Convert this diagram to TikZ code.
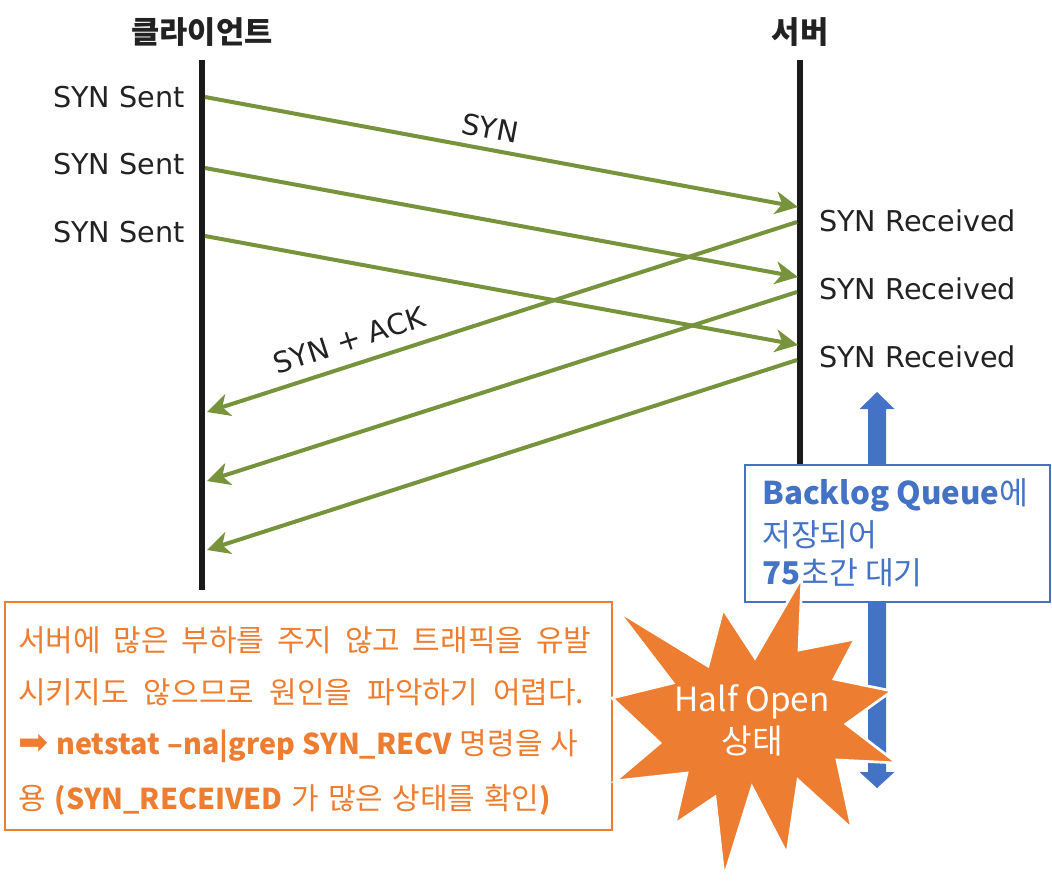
\documentclass[tikz,border=0pt]{standalone}
\usepackage{fontspec}
\setmainfont{DejaVu Sans}
\newfontfamily\kr{Noto Sans CJK KR}
\newfontfamily\arrfont{DejaVu Sans}
\usetikzlibrary{arrows.meta}
\definecolor{grn}{HTML}{77933C}
\definecolor{org}{HTML}{ED7D31}
\definecolor{blu}{HTML}{4472C4}
\definecolor{lifec}{HTML}{1A1A1A}
\definecolor{txt}{HTML}{222222}
\newcommand{\lat}[1]{{\bfseries\fontsize{21.5}{24}\selectfont #1}}
\begin{document}
\begin{tikzpicture}[x=0.75pt,y=-0.75pt,
  life/.style={line width=4.5pt, draw=lifec},
  msg/.style={draw=grn, line width=3pt, -{Stealth[length=17pt,width=17pt,inset=5pt]}},
  lbl/.style={font=\fontsize{21.5}{24}\selectfont, text=txt, inner sep=0pt},
  ttl/.style={font=\kr\bfseries\fontsize{23}{26}\selectfont, text=txt, inner sep=0pt},
  otext/.style={font=\kr\fontsize{22.5}{26}\selectfont, text=org, anchor=west, inner sep=0pt},
  btext/.style={font=\kr\fontsize{23.5}{26}\selectfont, text=blu, anchor=west, inner sep=0pt},
  boxstyle/.style={fill=white, line width=1.5pt, inner sep=0pt}]
\useasboundingbox (0,0) rectangle (1052,895);

% titles
\node[ttl] (tc) at (202,32) {클라이언트};
\node[ttl] (ts) at (800,32) {서버};

% lifelines
\coordinate (ctop) at (202,60);
\coordinate (cbot) at (202,590);
\coordinate (stop) at (800,60);
\coordinate (sbot) at (800,465);
\draw[life] (ctop) -- (cbot);
\draw[life] (stop) -- (sbot);

% state labels
\node[lbl, anchor=east] (s1) at (185,97) {SYN Sent};
\node[lbl, anchor=east] (s2) at (185,164) {SYN Sent};
\node[lbl, anchor=east] (s3) at (185,232) {SYN Sent};
\node[lbl, anchor=west] (r1) at (819,221) {SYN Received};
\node[lbl, anchor=west] (r2) at (819,289) {SYN Received};
\node[lbl, anchor=west] (r3) at (819,357) {SYN Received};

% message endpoints
\coordinate (a1) at (205,97);  \coordinate (b1) at (798,207);
\coordinate (a2) at (205,168); \coordinate (b2) at (798,277);
\coordinate (a3) at (205,236); \coordinate (b3) at (798,345);
\coordinate (c1) at (797,222); \coordinate (d1) at (207,412);
\coordinate (c2) at (797,292); \coordinate (d2) at (207,481);
\coordinate (c3) at (797,360); \coordinate (d3) at (207,550);

\draw[msg] (a1) -- (b1);
\draw[msg] (a2) -- (b2);
\draw[msg] (a3) -- (b3);
\draw[msg] (c1) -- (d1);
\draw[msg] (c2) -- (d2);
\draw[msg] (c3) -- (d3);

\node[lbl, rotate=-10.5] (syn) at (490,128) {SYN};
\node[lbl, rotate=17.9] (ack) at (349,340) {SYN + ACK};

% blue double arrow
\fill[blu] (877,392) -- (894.5,409) -- (886,409) -- (886,772) -- (894.5,772)
  -- (877,788) -- (859.5,772) -- (868,772) -- (868,409) -- (859.5,409) -- cycle;

% backlog box
\node[boxstyle, draw=blu, minimum width=228.75pt, minimum height=102.75pt] (bq) at (897.5,533.5) {};
\node[btext] (bq1) at (762,495) {\textbf{Backlog Queue}에};
\node[btext] (bq2) at (762,535) {저장되어};
\node[btext] (bq3) at (762,573) {\textbf{75}초간 대기};

% orange text box
\node[boxstyle, draw=org, minimum width=455.25pt, minimum height=171pt] (ob) at (308.5,716) {};
\node[otext] (o1) at (18,640) {\makebox[429.75pt][s]{서버에 많은 부하를 주지 않고 트래픽을 유발}};
\node[otext] (o2) at (18,692) {\makebox[424.5pt][s]{시키지도 않으므로 원인을 파악하기 어렵다.}};
\node[otext] (o3) at (18,746) {\makebox[420pt][s]{{\arrfont\fontsize{27}{27}\selectfont ➡} \lat{netstat –na|grep SYN\_RECV} 명령을 사}};
\node[otext] (o4) at (18,800) {\spaceskip=0.3em 용 \lat{(SYN\_RECEIVED} 가 많은 상태를 확인\lat{)}};

% starburst
\filldraw[fill=org, draw=white, line width=2pt]
  (802,577) -- (799,650) -- (855,639) -- (834,679) -- (892,691) -- (846,724)
  -- (897,763) -- (837,760) -- (852,829) -- (798,780) -- (787,854) -- (752,787)
  -- (724,877) -- (715,797) -- (675,824) -- (687,773) -- (615,781) -- (660,743)
  -- (612,698) -- (673,683) -- (618,611) -- (708,666) -- (723,609) -- (755,658)
  -- cycle;
\node[font=\kr\fontsize{25}{31.5}\selectfont, text=white, align=center, inner sep=0pt] (ho) at (752,720) {Half Open\\상태};
\end{tikzpicture}
\end{document}
